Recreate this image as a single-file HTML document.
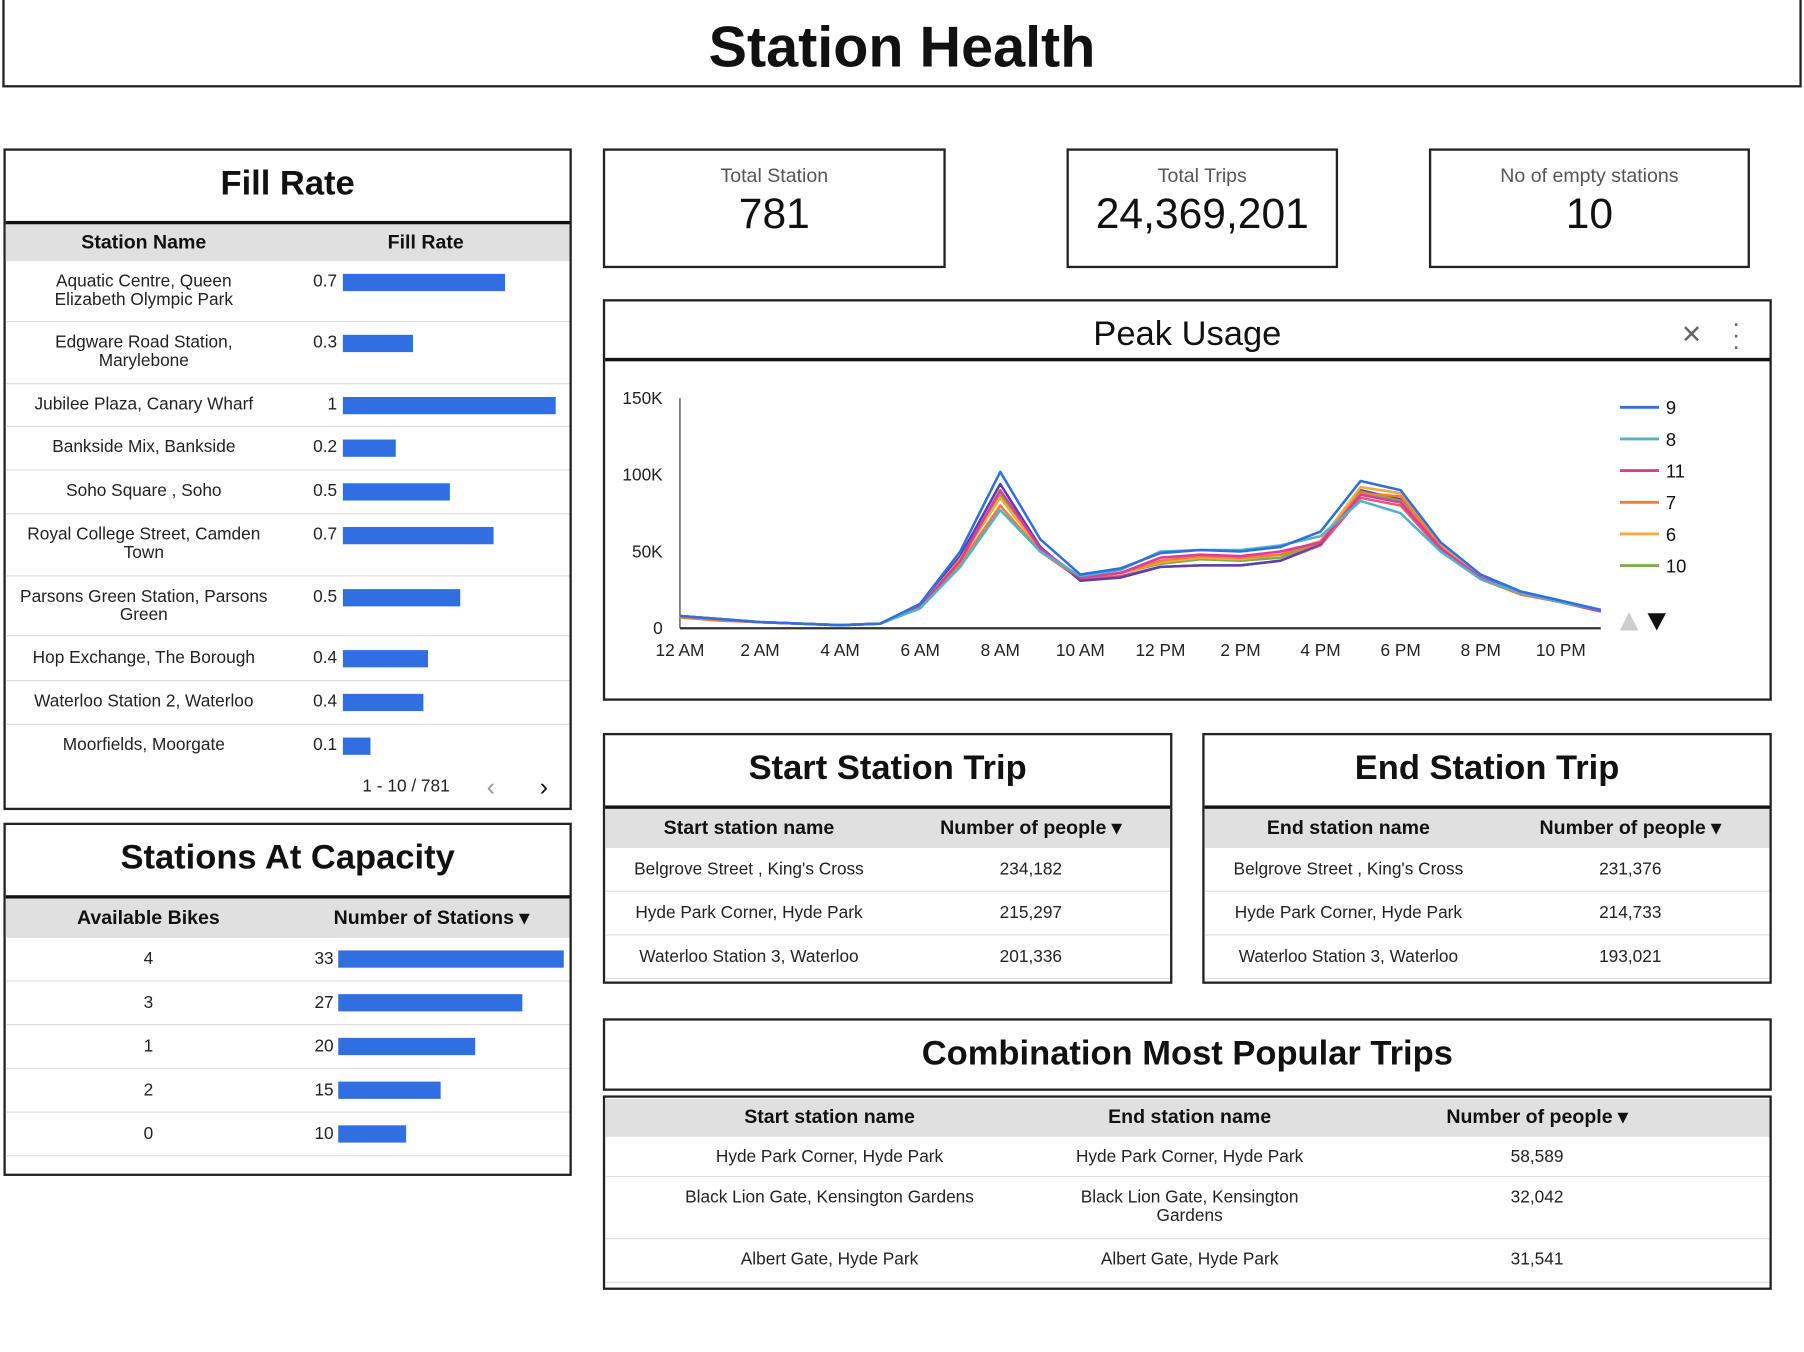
<!DOCTYPE html>
<html><head><meta charset="utf-8">
<style>
html,body{margin:0;padding:0;background:#fff;}
body{width:1804px;height:1352px;overflow:hidden;font-family:"Liberation Sans",Arial,sans-serif;color:#222;}
#root{position:absolute;left:0;top:0;width:1568px;height:1175px;transform:scale(1.15051,1.15064);transform-origin:0 0;background:#fff;}
.abs{position:absolute;}
.box{position:absolute;border:2px solid #222;box-sizing:border-box;background:#fff;}
.ttl{position:absolute;left:0;right:0;text-align:center;font-weight:bold;color:#111;}
.hdr{position:absolute;left:0;right:0;background:#e0e0e0;font-weight:bold;font-size:17px;color:#111;}
.row{position:absolute;left:0;right:0;border-bottom:1px solid #ddd;font-size:15px;color:#222;}
.c{position:absolute;text-align:center;line-height:16px;}
.bar{position:absolute;background:#2f6fe0;height:15px;}
.val{position:absolute;text-align:right;width:40px;}
.kpi-l{position:absolute;left:0;right:0;text-align:center;font-size:17px;color:#555;top:12px;}
.kpi-v{position:absolute;left:0;right:0;text-align:center;font-size:37px;color:#111;top:34px;}
</style></head><body>
<div id="root">
<div class="box" style="left:2px;top:-2px;width:1564px;height:78px;">
 <div class="ttl" style="top:12px;font-size:50px;">Station Health</div>
</div>

<!-- Fill Rate -->
<div class="box" style="left:3px;top:129px;width:494px;height:575px;">
 <div class="ttl" style="top:12px;font-size:30px;">Fill Rate</div>
 <div class="abs" style="left:0;right:0;top:61px;border-top:3px solid #111;"></div>
 <div class="hdr" style="top:64px;height:32px;">
  <div class="c" style="left:20px;width:200px;top:8px;">Station Name</div>
  <div class="c" style="left:290px;width:150px;top:8px;">Fill Rate</div>
 </div>
 <div id="fillrows"></div>
 <div class="abs" style="left:310px;top:544px;font-size:15px;">1 - 10 / 781</div>
 <div class="abs" style="left:418px;top:540px;font-size:22px;color:#999;">‹</div>
 <div class="abs" style="left:464px;top:540px;font-size:22px;color:#111;">›</div>
</div>

<!-- Stations At Capacity -->
<div class="box" style="left:3px;top:715px;width:494px;height:307px;">
 <div class="ttl" style="top:12px;font-size:30px;">Stations At Capacity</div>
 <div class="abs" style="left:0;right:0;top:61px;border-top:3px solid #111;"></div>
 <div class="hdr" style="top:64px;height:34px;">
  <div class="c" style="left:24px;width:200px;top:9px;">Available Bikes</div>
  <div class="c" style="left:270px;width:200px;top:9px;">Number of Stations ▾</div>
 </div>
 <div id="caprows"></div>
</div>

<!-- KPIs -->
<div class="box" style="left:524px;top:129px;width:298px;height:104px;"><div class="kpi-l">Total Station</div><div class="kpi-v">781</div></div>
<div class="box" style="left:927px;top:129px;width:236px;height:104px;"><div class="kpi-l">Total Trips</div><div class="kpi-v">24,369,201</div></div>
<div class="box" style="left:1242px;top:129px;width:279px;height:104px;"><div class="kpi-l">No of empty stations</div><div class="kpi-v">10</div></div>

<!-- Peak usage -->
<div class="box" style="left:524px;top:260px;width:1016px;height:349px;">
 <div class="ttl" style="top:12px;font-size:30px;font-weight:normal;">Peak Usage</div>
 <div class="abs" style="left:0;right:0;top:49px;border-top:3px solid #111;"></div>
 <div class="abs" style="left:935px;top:16px;font-size:22px;color:#666;">✕</div>
 <div class="abs" style="left:978px;top:14px;font-size:22px;color:#666;line-height:10px;width:10px;text-align:center;">·<br>·<br>·</div>
</div>
<svg id="chart" class="abs" style="left:524px;top:311px;" width="1016" height="298"></svg>

<!-- Start station -->
<div class="box" style="left:524px;top:637px;width:495px;height:218px;">
 <div class="ttl" style="top:12px;font-size:30px;">Start Station Trip</div>
 <div class="abs" style="left:0;right:0;top:61px;border-top:3px solid #111;"></div>
 <div class="hdr" style="top:64px;height:34px;">
  <div class="c" style="left:20px;width:210px;top:9px;">Start station name</div>
  <div class="c" style="left:270px;width:200px;top:9px;">Number of people ▾</div>
 </div>
 <div id="startrows"></div>
</div>
<div class="box" style="left:1045px;top:637px;width:495px;height:218px;">
 <div class="ttl" style="top:12px;font-size:30px;">End Station Trip</div>
 <div class="abs" style="left:0;right:0;top:61px;border-top:3px solid #111;"></div>
 <div class="hdr" style="top:64px;height:34px;">
  <div class="c" style="left:20px;width:210px;top:9px;">End station name</div>
  <div class="c" style="left:270px;width:200px;top:9px;">Number of people ▾</div>
 </div>
 <div id="endrows"></div>
</div>

<!-- Combination -->
<div class="box" style="left:524px;top:885px;width:1016px;height:63px;">
 <div class="ttl" style="top:12px;font-size:30px;">Combination Most Popular Trips</div>
</div>
<div class="box" style="left:524px;top:952px;width:1016px;height:169px;">
 <div class="hdr" style="top:1px;height:33px;">
  <div class="c" style="left:90px;width:210px;top:8px;">Start station name</div>
  <div class="c" style="left:403px;width:210px;top:8px;">End station name</div>
  <div class="c" style="left:710px;width:200px;top:8px;">Number of people ▾</div>
 </div>
 <div id="comborows"></div>
</div>
</div>

<script>
const fillNames=["Aquatic Centre, Queen<br>Elizabeth Olympic Park","Edgware Road Station,<br>Marylebone","Jubilee Plaza, Canary Wharf","Bankside Mix, Bankside","Soho Square , Soho","Royal College Street, Camden<br>Town","Parsons Green Station, Parsons<br>Green","Hop Exchange, The Borough","Waterloo Station 2, Waterloo","Moorfields, Moorgate"];
const fillVals=[0.76,0.33,1,0.25,0.5,0.71,0.55,0.4,0.38,0.13];
const fillLabels=["0.7","0.3","1","0.2","0.5","0.7","0.5","0.4","0.4","0.1"];
const capBikes=["4","3","1","2","0"];
const capVals=[33,27,20,15,10];
const startNames=["Belgrove Street , King's Cross","Hyde Park Corner, Hyde Park","Waterloo Station 3, Waterloo"];
const startVals=["234,182","215,297","201,336"];
const endNames=["Belgrove Street , King's Cross","Hyde Park Corner, Hyde Park","Waterloo Station 3, Waterloo"];
const endVals=["231,376","214,733","193,021"];
const comboStart=["Hyde Park Corner, Hyde Park","Black Lion Gate, Kensington Gardens","Albert Gate, Hyde Park"];
const comboEnd=["Hyde Park Corner, Hyde Park","Black Lion Gate, Kensington<br>Gardens","Albert Gate, Hyde Park"];
const comboVals=["58,589","32,042","31,541"];

const hours=["12 AM","1 AM","2 AM","3 AM","4 AM","5 AM","6 AM","7 AM","8 AM","9 AM","10 AM","11 AM","12 PM","1 PM","2 PM","3 PM","4 PM","5 PM","6 PM","7 PM","8 PM","9 PM","10 PM","11 PM"];
const yTicks=[0,50,100,150];
const seriesNames=["9","8","11","7","6","10","5","12"];
const seriesColors=["#2f6fe0","#4fb4c9","#e03a9a","#f07b3a","#f5a93a","#7cad4a","#5a3fb0","#e85a70"];
const s9=[8,6,4,3,2,3,16,50,102,58,35,39,49,51,50,53,63,96,90,56,35,24,18,12];
const s8=[8,6,4,3,2,3,13,40,77,50,34,38,50,51,51,54,60,83,75,50,32,23,17,12];
const s11=[8,6,4,3,2,3,14,44,90,52,33,36,46,48,47,50,56,87,82,52,33,23,17,11];
const s7=[7,5,4,3,2,3,13,42,80,50,33,36,44,47,46,48,56,88,86,53,32,22,17,11];
const s6=[8,6,4,3,2,3,14,45,85,51,33,36,43,46,45,48,57,92,88,54,33,23,17,11];
const s10=[8,6,4,3,2,3,14,45,88,51,33,36,42,45,44,46,56,89,83,52,33,23,17,11];
const s5=[8,6,4,3,2,3,15,47,94,53,31,33,40,41,41,44,55,90,84,53,33,23,17,11];
const s12=[8,5,4,3,2,3,14,44,87,50,32,34,40,41,41,44,54,85,80,51,32,22,17,11];
const seriesData=[s12,s5,s10,s6,s7,s11,s8,s9];
const drawColors=[seriesColors[7],seriesColors[6],seriesColors[5],seriesColors[4],seriesColors[3],seriesColors[2],seriesColors[1],seriesColors[0]];

function mk(parent,html,style,name,inter){const d=document.createElement('div');d.className='abs';d.innerHTML=html;d.style.cssText=style;parent.appendChild(d);


return d;}

// fill rate rows
const fr=document.getElementById('fillrows');
const fTops=[96,149,203,240,278,316,370,422,461,499];
const fBots=[149,203,240,278,316,370,422,461,499,537];
fillNames.forEach((n,i)=>{
 const r=mk(fr,'','left:0;right:0;top:'+fTops[i]+'px;height:'+(fBots[i]-fTops[i]-1)+'px;'+(i<9?'border-bottom:1px solid #ddd;':''),'fill-rate-row',false);
 const h=fBots[i]-fTops[i];
 const lines=n.indexOf('<br>')>=0?2:1;
 mk(r,n,'left:0;width:240px;text-align:center;font-size:15px;line-height:16px;top:'+(lines==2?10:(h/2-9))+'px;','station-name',false);
 mk(r,fillLabels[i],'left:248px;width:40px;text-align:right;font-size:15px;top:'+(lines==2?9:(h/2-10))+'px;','fill-rate-value',false);
 const b=mk(r,'','left:293px;height:15px;background:#2f6fe0;width:'+(fillVals[i]*185)+'px;top:'+(lines==2?11:(h/2-8))+'px;','fill-rate-bar',false);
});
// capacity
const cr=document.getElementById('caprows');
capBikes.forEach((b,i)=>{
 const top=98+i*38;
 const r=mk(cr,'','left:0;right:0;top:'+top+'px;height:37px;border-bottom:1px solid #ddd;','capacity-row',false);
 mk(r,b,'left:24px;width:200px;text-align:center;font-size:15px;top:10px;','available-bikes',false);
 mk(r,String(capVals[i]),'left:245px;width:40px;text-align:right;font-size:15px;top:10px;','station-count',false);
 mk(r,'','left:289px;height:15px;background:#2f6fe0;top:11px;width:'+(capVals[i]/33*196)+'px;','capacity-bar',false);
});
function tbl(id,names,vals){const p=document.getElementById(id);
 names.forEach((n,i)=>{const r=mk(p,'','left:0;right:0;top:'+(98+i*38)+'px;height:37px;border-bottom:1px solid #ddd;','trip-row',false);
 mk(r,n,'left:20px;width:210px;text-align:center;font-size:15px;top:10px;','station-name',false);
 mk(r,vals[i],'left:270px;width:200px;text-align:center;font-size:15px;top:10px;','people-count',false);});}
tbl('startrows',startNames,startVals);tbl('endrows',endNames,endVals);
const cp=document.getElementById('comborows');
const cT=[34,69,123],cB=[69,123,161];
comboStart.forEach((n,i)=>{const r=mk(cp,'','left:0;right:0;top:'+cT[i]+'px;height:'+(cB[i]-cT[i]-1)+'px;border-bottom:1px solid #ddd;','combo-row',false);
 mk(r,n,'left:40px;width:310px;text-align:center;font-size:15px;line-height:16px;top:10px;','start-station',false);
 mk(r,comboEnd[i],'left:353px;width:310px;text-align:center;font-size:15px;line-height:16px;top:10px;','end-station',false);
 mk(r,comboVals[i],'left:710px;width:200px;text-align:center;font-size:15px;line-height:16px;top:10px;','people-count',false);});

// chart
const svg=document.getElementById('chart');const NS='http://www.w3.org/2000/svg';
const X=h=>67+h*34.8, Y=v=>235-v*200/150;
function el(t,a,name){const e=document.createElementNS(NS,t);for(const k in a)e.setAttribute(k,a[k]);svg.appendChild(e);


return e;}
el('line',{x1:X(0),x2:X(0),y1:Y(150),y2:Y(0),stroke:'#333','stroke-width':1},'y-axis');
yTicks.forEach(t=>{const tx=el('text',{x:52,y:Y(t)+5,'text-anchor':'end','font-size':15,fill:'#222','font-family':'Liberation Sans'},'y-tick-label');tx.textContent=t==0?'0':t+'K';});
hours.forEach((h,i)=>{if(i%2)return;const tx=el('text',{x:X(i),y:259,'text-anchor':'middle','font-size':15,fill:'#222','font-family':'Liberation Sans'},'x-tick-label');tx.textContent=h;});
seriesData.forEach((d,si)=>{el('polyline',{points:d.map((v,i)=>X(i)+','+Y(v)).join(' '),fill:'none',stroke:drawColors[si],'stroke-width':2.2,'stroke-linejoin':'round'},'series-line');});
el('line',{x1:X(0),x2:X(23),y1:Y(0),y2:Y(0),stroke:'#333','stroke-width':2},'x-axis');
seriesNames.slice(0,6).forEach((n,i)=>{const y=43+i*27.5;
 el('line',{x1:884,x2:918,y1:y,y2:y,stroke:seriesColors[i],'stroke-width':2.5},'legend-swatch');
 const t=el('text',{x:924,y:y+6,'font-size':16,fill:'#111','font-family':'Liberation Sans'},'legend-entry');t.textContent=n;});
el('polygon',{points:'884,237 900,237 892,221',fill:'#ccc'},'legend-prev');
el('polygon',{points:'908,222 924,222 916,237',fill:'#111'},'legend-next');
</script>
</body></html>
